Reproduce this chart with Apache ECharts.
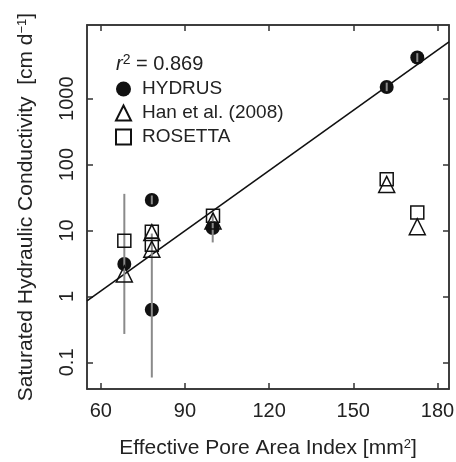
<!DOCTYPE html>
<html>
<head>
<meta charset="utf-8">
<script src="https://cdn.jsdelivr.net/npm/echarts@6/dist/echarts.min.js"></script>
<style>
  html, body { margin: 0; padding: 0; background: #fff; }
  #chart { width: 456px; height: 462px; }
</style>
</head>
<body>
<div id="chart"></div>
<script>
// data
var xTicks = [60, 90, 120, 150, 180];
var yTicks = [0.1, 1, 10, 100, 1000];

var xHydrus = [68.4, 78.2, 78.2, 99.9, 161.9, 172.8];
var yHydrus = [3.1, 29, 0.63, 10.9, 1500, 4200];

var xHan = [68.4, 78.2, 78.2, 100, 161.9, 172.8];
var yHan = [2.2, 9.3, 5.2, 14, 50, 11.4];

var xRosetta = [68.4, 78.2, 78.2, 100, 161.9, 172.8];
var yRosetta = [7.0, 9.6, 6.1, 16.7, 60, 18.7];

// error bars (HYDRUS)
var errX = [68.4, 78.2, 99.9, 78.2, 161.9, 172.8];
var errLow = [0.27, 0.059, 6.6, 25, 1300, 3600];
var errHigh = [36, 9, 18, 34, 1750, 4900];

// regression line
var fitX = [55.1, 184.1];
var fitY = [0.86, 7280];

var font = 'Liberation Sans, Arial, sans-serif';
var ink = '#222';

function pairs(xs, ys) {
  return xs.map(function (x, i) { return [x, ys[i]]; });
}

var myChart = echarts.init(document.getElementById('chart'));

var supStyle = { fontSize: 13, fontFamily: font, color: ink, verticalAlign: 'top', padding: [0, 0, 8, 0] };

var option = {
  animation: false,
  textStyle: { fontFamily: font, color: ink },
  grid: {
    left: 87, right: 7, top: 25, bottom: 73, outerBoundsMode: 'none',
    show: true, borderColor: '#333', borderWidth: 1.5
  },
  title: {
    left: 111, top: 48,
    text: '{it|r}{sup|2}{t| = 0.869}',
    textStyle: {
      fontFamily: font, fontWeight: 'normal', color: ink, fontSize: 20,
      rich: {
        it: { fontStyle: 'italic', fontSize: 20, fontFamily: font, color: ink },
        sup: { fontSize: 14, fontFamily: font, color: ink, verticalAlign: 'top', padding: [0, 0, 8, 0] },
        t: { fontSize: 20, fontFamily: font, color: ink }
      }
    }
  },
  legend: {
    orient: 'vertical', left: 110, top: 74,
    itemWidth: 15, itemHeight: 15, itemGap: 4,
    data: ['HYDRUS', 'Han et al. (2008)', 'ROSETTA'],
    textStyle: { fontFamily: font, fontSize: 19, color: ink, lineHeight: 20, padding: [0, 0, 0, 6] }
  },
  xAxis: [{
    type: 'value', min: 55.1, max: 184.1,
    name: 'Effective Pore Area Index [mm{sup|2}]',
    nameLocation: 'middle', nameGap: 49,
    nameTextStyle: { fontFamily: font, fontSize: 21, color: ink, rich: { sup: supStyle } },
    splitLine: { show: false },
    axisLine: { lineStyle: { color: '#333', width: 1.5 } },
    axisTick: { inside: true, length: 6, customValues: xTicks, lineStyle: { color: '#333', width: 1.5 } },
    axisLabel: { customValues: xTicks, fontSize: 20, color: ink, fontFamily: font, margin: 12 }
  }, {
    type: 'value', min: 55.1, max: 184.1, position: 'top',
    splitLine: { show: false },
    axisLine: { lineStyle: { color: '#333', width: 1.5 } },
    axisTick: { inside: true, length: 6, customValues: xTicks, lineStyle: { color: '#333', width: 1.5 } },
    axisLabel: { show: false }
  }],
  yAxis: [{
    type: 'log', logBase: 10, min: 0.0395, max: 13100,
    name: 'Saturated Hydraulic Conductivity  [cm d{sup|\u22121}]',
    nameLocation: 'middle', nameGap: 50, nameRotate: 90,
    nameTextStyle: { fontFamily: font, fontSize: 21, color: ink, rich: { sup: supStyle } },
    splitLine: { show: false },
    axisLine: { lineStyle: { color: '#333', width: 1.5 } },
    axisTick: { inside: true, length: 6, customValues: yTicks, lineStyle: { color: '#333', width: 1.5 } },
    axisLabel: {
      customValues: yTicks, rotate: 90, fontSize: 20, color: ink, fontFamily: font, margin: 10,
      formatter: function (v) { return String(v); }
    }
  }, {
    type: 'log', logBase: 10, min: 0.0395, max: 13100, position: 'right',
    splitLine: { show: false },
    axisLine: { lineStyle: { color: '#333', width: 1.5 } },
    axisTick: { inside: true, length: 6, customValues: yTicks, lineStyle: { color: '#333', width: 1.5 } },
    axisLabel: { show: false }
  }],
  series: [
    {
      name: 'fit', type: 'line', data: pairs(fitX, fitY),
      symbol: 'none', lineStyle: { color: '#111', width: 1.6 }, z: 1, silent: true
    },
    {
      name: 'HYDRUS', type: 'scatter', data: pairs(xHydrus, yHydrus),
      symbol: 'circle', symbolSize: 14,
      itemStyle: { color: '#111', opacity: 1 }, z: 2
    },
    {
      name: 'errorbars', type: 'custom', z: 3, silent: true,
      data: errX.map(function (x, i) { return [x, errLow[i], errHigh[i]]; }),
      renderItem: function (params, api) {
        var lo = api.coord([api.value(0), api.value(1)]);
        var hi = api.coord([api.value(0), api.value(2)]);
        return {
          type: 'line',
          shape: { x1: lo[0], y1: lo[1], x2: hi[0], y2: hi[1] },
          style: { stroke: '#8a8a8a', lineWidth: 2 }
        };
      }
    },
    {
      name: 'Han et al. (2008)', type: 'scatter', data: pairs(xHan, yHan),
      symbol: 'triangle', symbolSize: 16,
      itemStyle: { color: 'rgba(255,255,255,0)', borderColor: '#111', borderWidth: 1.5, opacity: 1 }, z: 4
    },
    {
      name: 'ROSETTA', type: 'scatter', data: pairs(xRosetta, yRosetta),
      symbol: 'rect', symbolSize: 13,
      itemStyle: { color: 'rgba(255,255,255,0)', borderColor: '#111', borderWidth: 1.5, opacity: 1 }, z: 4
    }
  ]
};

myChart.setOption(option);
</script>
</body>
</html>
